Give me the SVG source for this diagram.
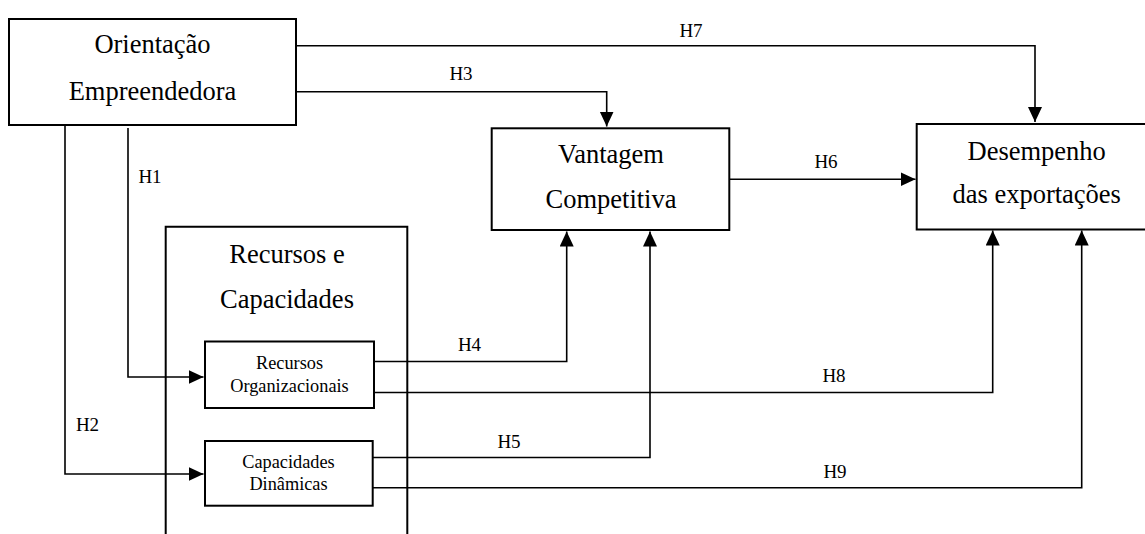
<svg xmlns="http://www.w3.org/2000/svg" width="1145" height="534" viewBox="0 0 1145 534">
<style>
.box{fill:#fff;stroke:#000;stroke-width:2}
.big{font-family:"Liberation Serif","Times New Roman",serif;font-size:26.5px;fill:#000;text-anchor:middle}
.small{font-family:"Liberation Serif","Times New Roman",serif;font-size:18.3px;fill:#000;text-anchor:middle}
.lbl{font-family:"Liberation Serif","Times New Roman",serif;font-size:19px;fill:#000;text-anchor:middle}
.con{fill:none;stroke:#000;stroke-width:1.6}
</style>
<defs>
<marker id="arr" markerUnits="userSpaceOnUse" markerWidth="16" markerHeight="16" refX="15" refY="7" orient="auto">
<path d="M0,0 L15,7 L0,14 z" fill="#000"/>
</marker>
</defs>
<rect width="1145" height="534" fill="#fff"/>
<g id="recursos-capacidades">
<path class="box" d="M165.7,540 V226.7 H407.3 V540"/>
<text class="big" x="287" y="263">Recursos e</text>
<text class="big" x="287" y="308">Capacidades</text>
</g>
<g id="connectors">
<path class="con" d="M296,45.7 H1035 V122" marker-end="url(#arr)"/>
<path class="con" d="M296,91.7 H606.7 V126.5" marker-end="url(#arr)"/>
<path class="con" d="M729.3,179.3 H915.5" marker-end="url(#arr)"/>
<path class="con" d="M128,128 V377 H203.5" marker-end="url(#arr)"/>
<path class="con" d="M65,125 V474 H203.5" marker-end="url(#arr)"/>
<path class="con" d="M374,361.5 H566.7 V231.5" marker-end="url(#arr)"/>
<path class="con" d="M372.7,457.5 H650 V231.5" marker-end="url(#arr)"/>
<path class="con" d="M374,392.5 H992.7 V230.5" marker-end="url(#arr)"/>
<path class="con" d="M372.7,487.8 H1081.7 V230.5" marker-end="url(#arr)"/>
<text class="lbl" x="691" y="37">H7</text>
<text class="lbl" x="461" y="79.5">H3</text>
<text class="lbl" x="826" y="168">H6</text>
<text class="lbl" x="150" y="183">H1</text>
<text class="lbl" x="87.5" y="430.5">H2</text>
<text class="lbl" x="469.5" y="350.5">H4</text>
<text class="lbl" x="509" y="448.3">H5</text>
<text class="lbl" x="834" y="382">H8</text>
<text class="lbl" x="835" y="478">H9</text>
</g>
<g id="orientacao">
<rect class="box" x="9" y="19" width="287" height="106"/>
<text class="big" x="152.5" y="53.3">Orientação</text>
<text class="big" x="152.5" y="100">Empreendedora</text>
</g>
<g id="vantagem">
<rect class="box" x="491.7" y="128.3" width="237.6" height="101.7"/>
<text class="big" x="611" y="162.7">Vantagem</text>
<text class="big" x="611" y="208">Competitiva</text>
</g>
<g id="desempenho">
<rect class="box" x="916.7" y="124" width="240" height="105.5"/>
<text class="big" x="1036.7" y="160">Desempenho</text>
<text class="big" x="1036.7" y="203">das exportações</text>
</g>
<g id="recursos-organizacionais">
<rect class="box" x="205" y="341.5" width="169" height="66.5"/>
<text class="small" x="289.5" y="369">Recursos</text>
<text class="small" x="289.5" y="391.7">Organizacionais</text>
</g>
<g id="capacidades-dinamicas">
<rect class="box" x="205" y="441" width="167.7" height="64.7"/>
<text class="small" x="288.5" y="468">Capacidades</text>
<text class="small" x="288.5" y="490">Dinâmicas</text>
</g>
</svg>
